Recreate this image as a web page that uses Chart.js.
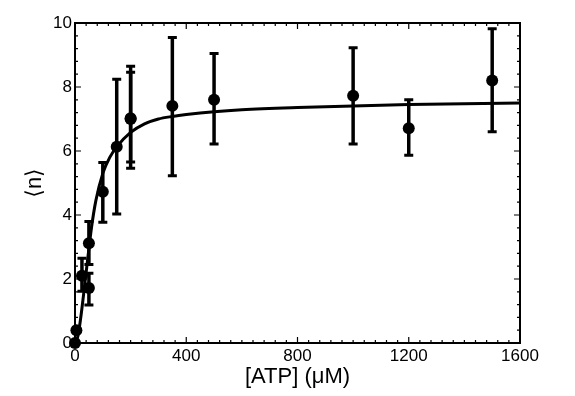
<!DOCTYPE html>
<html>
<head>
<meta charset="utf-8">
<script src="https://cdn.jsdelivr.net/npm/chart.js@4.4.0/dist/chart.umd.min.js"></script>
<style>
    body { margin: 0; background: #ffffff; }
    #wrap { width: 575px; height: 396px; }
</style>
</head>
<body>
<div id="wrap"><canvas id="atp_chart" width="575" height="396"></canvas></div>
<script>
    'use strict';

    // measured points
    var atp_conc = [0, 5, 25, 50, 50, 100, 150, 200, 200, 350, 500, 1000, 1200, 1500];
    var mean_n = [0, 0.4, 2.1, 1.72, 3.12, 4.73, 6.13, 7.0, 7.02, 7.41, 7.6, 7.73, 6.71, 8.2];
    var err_low = [0, 0.4, 1.62, 1.19, 2.45, 3.77, 4.03, 5.46, 5.66, 5.23, 6.22, 6.22, 5.87, 6.6];
    var err_high = [0, 0.4, 2.65, 2.18, 3.8, 5.64, 8.24, 8.65, 8.46, 9.55, 9.05, 9.23, 7.6, 9.82];

    // fitted curve
    var fit_x = [0, 10, 20, 30, 40, 50, 60, 75, 100, 125, 150, 200, 250, 300, 350, 400, 500, 600, 800, 1000, 1200, 1400, 1600];
    var fit_y = [0, 0.2, 0.75, 1.45, 2.2, 2.95, 3.65, 4.45, 5.3, 5.8, 6.13, 6.58, 6.85, 7.0, 7.08, 7.14, 7.23, 7.29, 7.36, 7.41, 7.45, 7.48, 7.5];

    var x_ticks = [0, 400, 800, 1200, 1600];
    var y_ticks = [0, 2, 4, 6, 8, 10];

    var font_family = "'Liberation Sans', Arial, 'DejaVu Sans', sans-serif";

    function toPoints(xs, ys) {
        var out = [];
        for (var i = 0; i < xs.length; i++) {
            out.push({ x: xs[i], y: ys[i] });
        }
        return out;
    }

    var errorBarPlugin = {
        id: 'errorBars',
        afterDatasetsDraw: function (chart) {
            var ctx = chart.ctx;
            var xs = chart.scales.x;
            var ys = chart.scales.y;
            ctx.save();
            ctx.strokeStyle = '#000';
            ctx.lineCap = 'butt';
            for (var i = 0; i < atp_conc.length; i++) {
                if (err_high[i] - err_low[i] < 0.05) continue;
                var px = xs.getPixelForValue(atp_conc[i]);
                var top = ys.getPixelForValue(err_high[i]);
                var bot = ys.getPixelForValue(err_low[i]);
                ctx.lineWidth = 3.5;
                ctx.beginPath();
                ctx.moveTo(px, top);
                ctx.lineTo(px, bot);
                ctx.stroke();
                ctx.lineWidth = 3;
                ctx.beginPath();
                ctx.moveTo(px - 4.5, top);
                ctx.lineTo(px + 4.5, top);
                ctx.moveTo(px - 4.5, bot);
                ctx.lineTo(px + 4.5, bot);
                ctx.stroke();
            }
            ctx.restore();
        }
    };

    // frame with inward ticks on all four sides
    var framePlugin = {
        id: 'frame',
        afterDraw: function (chart) {
            var ctx = chart.ctx;
            var a = chart.chartArea;
            var xs = chart.scales.x;
            var ys = chart.scales.y;
            ctx.save();
            ctx.strokeStyle = '#000';
            ctx.lineWidth = 1.2;
            ctx.beginPath();
            var v, p, len;
            for (v = xs.min; v <= xs.max + 0.001; v += 40) {
                p = xs.getPixelForValue(v);
                len = (Math.round(v) % 400 === 0) ? 6 : 3;
                ctx.moveTo(p, a.bottom); ctx.lineTo(p, a.bottom - len);
                ctx.moveTo(p, a.top); ctx.lineTo(p, a.top + len);
            }
            for (v = ys.min; v <= ys.max + 0.001; v += 0.4) {
                p = ys.getPixelForValue(v);
                len = (Math.abs(v / 2 - Math.round(v / 2)) < 0.01) ? 6 : 3;
                ctx.moveTo(a.left, p); ctx.lineTo(a.left + len, p);
                ctx.moveTo(a.right, p); ctx.lineTo(a.right - len, p);
            }
            ctx.stroke();
            ctx.lineWidth = 2;
            ctx.strokeRect(a.left, a.top, a.right - a.left, a.bottom - a.top);
            ctx.restore();
        }
    };

    var cxt = document.getElementById('atp_chart').getContext('2d');
    var chart_instance = new Chart(cxt, {
        type: 'scatter',
        data: {
            datasets: [
                {
                    label: 'fit',
                    data: toPoints(fit_x, fit_y),
                    showLine: true,
                    borderColor: '#000',
                    borderWidth: 3,
                    pointRadius: 0,
                    cubicInterpolationMode: 'monotone',
                    order: 2
                },
                {
                    label: '<n>',
                    data: toPoints(atp_conc, mean_n),
                    showLine: false,
                    backgroundColor: '#000',
                    borderWidth: 0,
                    pointRadius: 6,
                    clip: false,
                    order: 1
                }
            ]
        },
        options: {
            responsive: false,
            animation: false,
            devicePixelRatio: 1,
            layout: { padding: { left: 0, right: 55, top: 23, bottom: 0 } },
            plugins: {
                legend: { display: false },
                tooltip: { enabled: false }
            },
            scales: {
                x: {
                    type: 'linear',
                    min: 0,
                    max: 1600,
                    afterBuildTicks: function (scale) {
                        scale.ticks = x_ticks.map(function (t) { return { value: t }; });
                    },
                    afterFit: function (scale) { scale.height = 53; },
                    grid: { display: false, drawTicks: false },
                    border: { display: false },
                    ticks: {
                        color: '#000',
                        padding: 3,
                        maxRotation: 0,
                        font: { family: font_family, size: 17 },
                        callback: function (value) { return String(value); }
                    },
                    title: {
                        display: true,
                        text: '[ATP] (\u03bcM)',
                        color: '#000',
                        font: { family: font_family, size: 22 },
                        padding: { top: 0, bottom: 6 }
                    }
                },
                y: {
                    type: 'linear',
                    min: 0,
                    max: 10,
                    afterBuildTicks: function (scale) {
                        scale.ticks = y_ticks.map(function (t) { return { value: t }; });
                    },
                    afterFit: function (scale) { scale.width = 75; },
                    grid: { display: false, drawTicks: false },
                    border: { display: false },
                    ticks: {
                        color: '#000',
                        padding: 3,
                        font: { family: font_family, size: 17 },
                        callback: function (value) { return String(value); }
                    },
                    title: {
                        display: true,
                        text: '\u27e8n\u27e9',
                        color: '#000',
                        font: { family: font_family, size: 22 },
                        padding: { top: 22, bottom: 0 }
                    }
                }
            }
        },
        plugins: [errorBarPlugin, framePlugin]
    });
</script>
</body>
</html>
